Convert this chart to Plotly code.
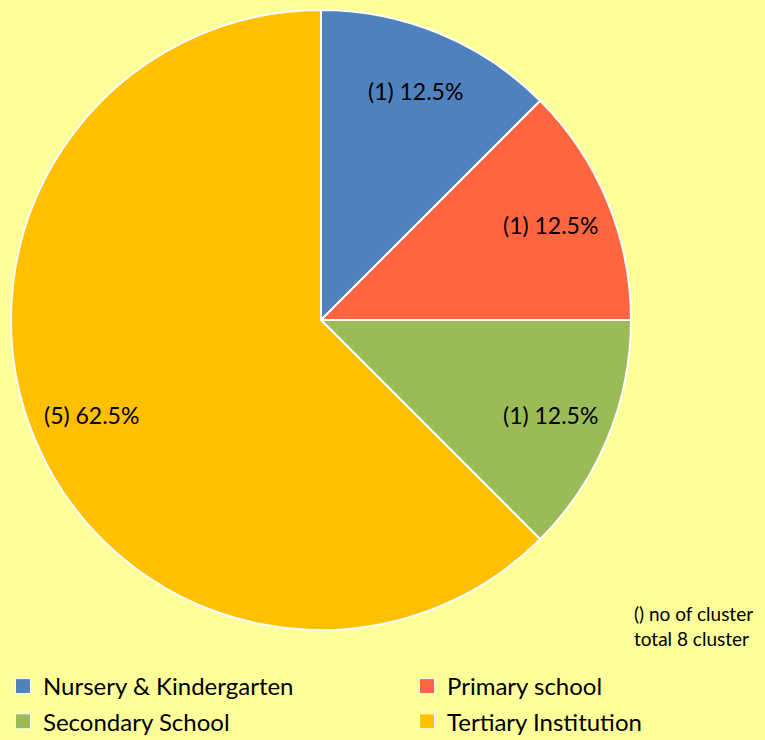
import math
import plotly.graph_objects as go

categories = ["Nursery & Kindergarten", "Primary school", "Secondary School", "Tertiary Institution"]
clusters = [1, 1, 1, 5]
colors = ["#4F81BD", "#FF6640", "#9BBB59", "#FFC000"]
note_lines = ["() no of cluster", "total 8 cluster"]

W, H = 765, 740
CX, CY, R = 321, 320, 310          # pie centre / radius in pixels
LABEL_R = 0.80                      # label distance as fraction of radius
FONT = "Lato, Open Sans, sans-serif"

fig = go.Figure()
fig.add_trace(go.Pie(
    labels=categories,
    values=clusters,
    sort=False,
    direction="clockwise",
    rotation=0,
    marker=dict(colors=colors, line=dict(color="white", width=2)),
    textinfo="none",
    showlegend=False,
    domain=dict(x=[(CX - R) / W, (CX + R) / W], y=[1 - (CY + R) / H, 1 - (CY - R) / H]),
    hoverinfo="label+value+percent",
))

# slice labels placed at each slice's mid-angle
total = sum(clusters)
cum = 0
for v in clusters:
    theta = 2 * math.pi * (cum + v / 2) / total
    cum += v
    px = CX + LABEL_R * R * math.sin(theta)
    py = CY - LABEL_R * R * math.cos(theta)
    fig.add_annotation(
        x=px / W, y=1 - py / H, xref="paper", yref="paper",
        xanchor="center", yanchor="middle", showarrow=False,
        text=f"({v}) {100 * v / total:.1f}%",
        font=dict(family=FONT, size=23, color="black"),
    )

# legend entries (two columns, as in the original)
for i, (cat, col) in enumerate(zip(categories, colors)):
    fig.add_trace(go.Scatter(
        x=[None], y=[None], mode="markers", name=cat,
        marker=dict(symbol="square", size=15, color=col, line=dict(color="white", width=1)),
        legend="legend" if i % 2 == 0 else "legend2",
        legendgroup=f"g{i}", hoverinfo="skip",
    ))

fig.add_annotation(
    x=632 / W, y=1 - 600 / H, xref="paper", yref="paper",
    xanchor="left", yanchor="top", align="left", showarrow=False,
    text="<br>".join(note_lines),
    font=dict(family=FONT, size=19, color="black"),
)

leg_common = dict(
    orientation="v", yanchor="top", xanchor="left",
    font=dict(family=FONT, size=24, color="black"),
    bgcolor="rgba(0,0,0,0)", itemwidth=30, tracegroupgap=1,
)
fig.update_layout(
    width=W, height=H,
    paper_bgcolor="#FFFF99", plot_bgcolor="#FFFF99",
    margin=dict(l=0, r=0, t=0, b=0, autoexpand=False),
    showlegend=True,
    xaxis=dict(visible=False), yaxis=dict(visible=False),
    legend=dict(x=3 / W, y=1 - 664 / H, **leg_common),
    legend2=dict(x=407 / W, y=1 - 664 / H, **leg_common),
)

fig.write_html("out.html", config={"displayModeBar": False},
               post_script="document.body.style.margin='0px';")
